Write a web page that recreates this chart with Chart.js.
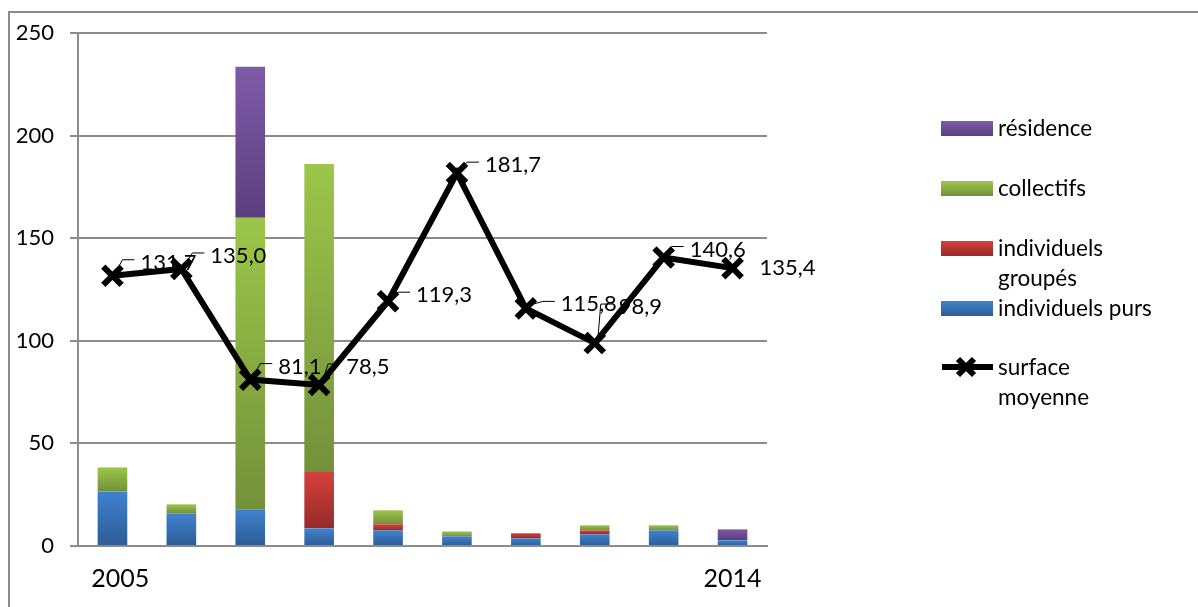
<!DOCTYPE html>
<html>
<head>
<meta charset="utf-8">
<script src="https://cdn.jsdelivr.net/npm/chart.js@4/dist/chart.umd.min.js"></script>
<style>
  html, body { margin: 0; padding: 0; background: #fff; }
  #wrap { position: relative; width: 1198px; height: 607px; overflow: hidden; font-family: 'Lato', sans-serif; }
  #frame { position: absolute; left: 8px; top: 11px; width: 1300px; height: 700px;
           border-left: 2px solid #8c8c8c; border-top: 2px solid #8c8c8c; }
  canvas { position: absolute; left: 0; top: 0; }
  .lg { position: absolute; left: 941px; font-size: 22.5px; color: #000; }
  .lg .box { position: absolute; left: 0; width: 52px; height: 15px; }
  .lg .txt { position: absolute; left: 57px; white-space: nowrap; line-height: 30px; }
</style>
</head>
<body>
<div id="wrap">
  <div id="frame"></div>
  <canvas id="chart" width="1198" height="607"></canvas>
  <div id="legend"></div>
</div>
<script>
//
// Logements commencés et surface moyenne
//

// Data
var years = ['2005', '2006', '2007', '2008', '2009', '2010', '2011', '2012', '2013', '2014'];
var indivPurs = [26.6, 15.9, 17.9, 8.6, 7.6, 4.7, 3.7, 5.7, 7.6, 2.8];
var indivGroupes = [0, 0, 0, 27.5, 3.0, 0, 2.5, 1.9, 0, 0];
var collectifs = [11.7, 4.4, 142.1, 150.1, 6.8, 2.4, 0, 2.5, 2.5, 0];
var residence = [0, 0, 73.5, 0, 0, 0, 0, 0, 0, 5.3];
var surfaceMoyenne = [131.7, 135.0, 81.1, 78.5, 119.3, 181.7, 115.8, 98.9, 140.6, 135.4];
var yTicks = [0, 50, 100, 150, 200, 250];

// Label placement (text start / centre relative to point)
var labelOffsets = [[28, -13], [29, -13], [28, -13], [27, -18], [28, -6], [28, -8], [35, -4], [24, -36], [26, -8], [27, 0]];

// Colours (top, bottom of gradient)
var colBlue = ['#4082cf', '#2c5c94'];
var colRed = ['#d4413d', '#962a28'];
var colGreen = ['#9cc64a', '#73913a'];
var colPurple = ['#7e5ba8', '#5a3f7d'];

var FONT = 'Lato';

var barSeries = [indivPurs, indivGroupes, collectifs, residence];

function gradientFill(seriesIndex, colors) {
	return function(ctx) {
		var chart = ctx.chart;
		var y = chart.scales.y;
		if (!chart.chartArea || !y || ctx.type !== 'data') {
			return colors[0];
		}
		var i = ctx.dataIndex;
		var base = 0;
		for (var s = 0; s < seriesIndex; s++) {
			base += barSeries[s][i];
		}
		var val = barSeries[seriesIndex][i];
		var y0 = y.getPixelForValue(base);
		var y1 = y.getPixelForValue(base + val);
		if (!isFinite(y0) || !isFinite(y1) || y0 === y1) {
			return colors[0];
		}
		var g = chart.ctx.createLinearGradient(0, y1, 0, y0);
		g.addColorStop(0, colors[0]);
		g.addColorStop(1, colors[1]);
		return g;
	};
}

function fmt(v) {
	return v.toFixed(1).replace('.', ',');
}

// Point labels drawn over bars but under the line
var pointLabels = {
	id: 'pointLabels',
	beforeDatasetDraw: function(chart, args) {
		if (args.index !== 4) return;
		var ctx = chart.ctx;
		var meta = chart.getDatasetMeta(4);
		ctx.save();
		ctx.font = '22px ' + FONT;
		ctx.fillStyle = '#000';
		ctx.textBaseline = 'middle';
		ctx.strokeStyle = '#000';
		ctx.lineWidth = 1;
		meta.data.forEach(function(pt, i) {
			var off = labelOffsets[i];
			var tx = pt.x + off[0];
			var ty = pt.y + off[1];
			if (i !== 9) {
				ctx.beginPath();
				ctx.moveTo(pt.x + 3, pt.y - 3);
				ctx.lineTo(tx - 18, ty - 3);
				ctx.lineTo(tx - 6, ty - 3);
				ctx.stroke();
			}
			ctx.fillText(fmt(surfaceMoyenne[i]), tx, ty);
		});
		ctx.restore();
	}
};

var chart = new Chart(document.getElementById('chart'), {
	type: 'bar',
	data: {
		labels: years,
		datasets: [
			{ label: 'individuels purs', data: indivPurs, backgroundColor: gradientFill(0, colBlue), stack: 's', order: 1 },
			{ label: 'individuels groupés', data: indivGroupes, backgroundColor: gradientFill(1, colRed), stack: 's', order: 1 },
			{ label: 'collectifs', data: collectifs, backgroundColor: gradientFill(2, colGreen), stack: 's', order: 1 },
			{ label: 'résidence', data: residence, backgroundColor: gradientFill(3, colPurple), stack: 's', order: 1 },
			{
				type: 'line',
				label: 'surface moyenne',
				data: surfaceMoyenne,
				borderColor: '#000',
				borderWidth: 6,
				pointStyle: 'crossRot',
				pointRadius: 13,
				pointBorderWidth: 6,
				pointBorderColor: '#000',
				pointBackgroundColor: '#000',
				tension: 0,
				order: 0
			}
		]
	},
	options: {
		responsive: false,
		animation: false,
		events: [],
		layout: { padding: { left: 0, top: 33, right: 431, bottom: 0 } },
		datasets: {
			bar: { barPercentage: 0.43, categoryPercentage: 1 }
		},
		plugins: {
			legend: { display: false },
			tooltip: { enabled: false }
		},
		scales: {
			x: {
				stacked: true,
				grid: { display: false, drawTicks: false },
				border: { display: true, color: '#8c8c8c', width: 2 },
				ticks: {
					autoSkip: false,
					maxRotation: 0,
					padding: 18,
					color: '#000',
					font: { family: FONT, size: 25 },
					callback: function(v, i) {
						if (i === 0) return '\u2002\u2009' + years[i];
						return (i === years.length - 1) ? years[i] : '';
					}
				},
				afterFit: function(scale) { scale.height = 61; }
			},
			y: {
				stacked: true,
				min: 0,
				max: 250,
				afterBuildTicks: function(scale) {
					scale.ticks = yTicks.map(function(v) { return { value: v }; });
				},
				grid: { color: '#8c8c8c', lineWidth: 2, tickLength: 8 },
				border: { display: true, color: '#8c8c8c', width: 2 },
				ticks: {
					padding: 16,
					color: '#000',
					font: { family: FONT, size: 22 }
				},
				afterFit: function(scale) { scale.width = 78; }
			}
		}
	},
	plugins: [pointLabels]
});

// Legend (HTML, right side)
var legendItems = [
	{ lines: ['résidence'], colors: colPurple, top: 113 },
	{ lines: ['collectifs'], colors: colGreen, top: 173 },
	{ lines: ['individuels', 'groupés'], colors: colRed, top: 233 },
	{ lines: ['individuels purs'], colors: colBlue, top: 293 },
	{ lines: ['surface', 'moyenne'], line: true, top: 352 }
];

var legend = document.getElementById('legend');
legendItems.forEach(function(item) {
	var el = document.createElement('div');
	el.className = 'lg';
	el.style.top = item.top + 'px';
	if (item.line) {
		var c = document.createElement('canvas');
		c.width = 60; c.height = 30;
		c.style.left = '-2px'; c.style.top = '0px';
		var g = c.getContext('2d');
		g.strokeStyle = '#000';
		g.lineWidth = 6;
		g.beginPath(); g.moveTo(3, 15); g.lineTo(54, 15); g.stroke();
		g.beginPath();
		g.moveTo(19, 7); g.lineTo(35, 23);
		g.moveTo(35, 7); g.lineTo(19, 23);
		g.stroke();
		el.appendChild(c);
	} else {
		var b = document.createElement('div');
		b.className = 'box';
		b.style.top = '8px';
		b.style.background = 'linear-gradient(' + item.colors[0] + ',' + item.colors[1] + ')';
		el.appendChild(b);
	}
	var t = document.createElement('div');
	t.className = 'txt';
	t.innerHTML = item.lines.join('<br>');
	el.appendChild(t);
	legend.appendChild(el);
});
</script>
</body>
</html>
